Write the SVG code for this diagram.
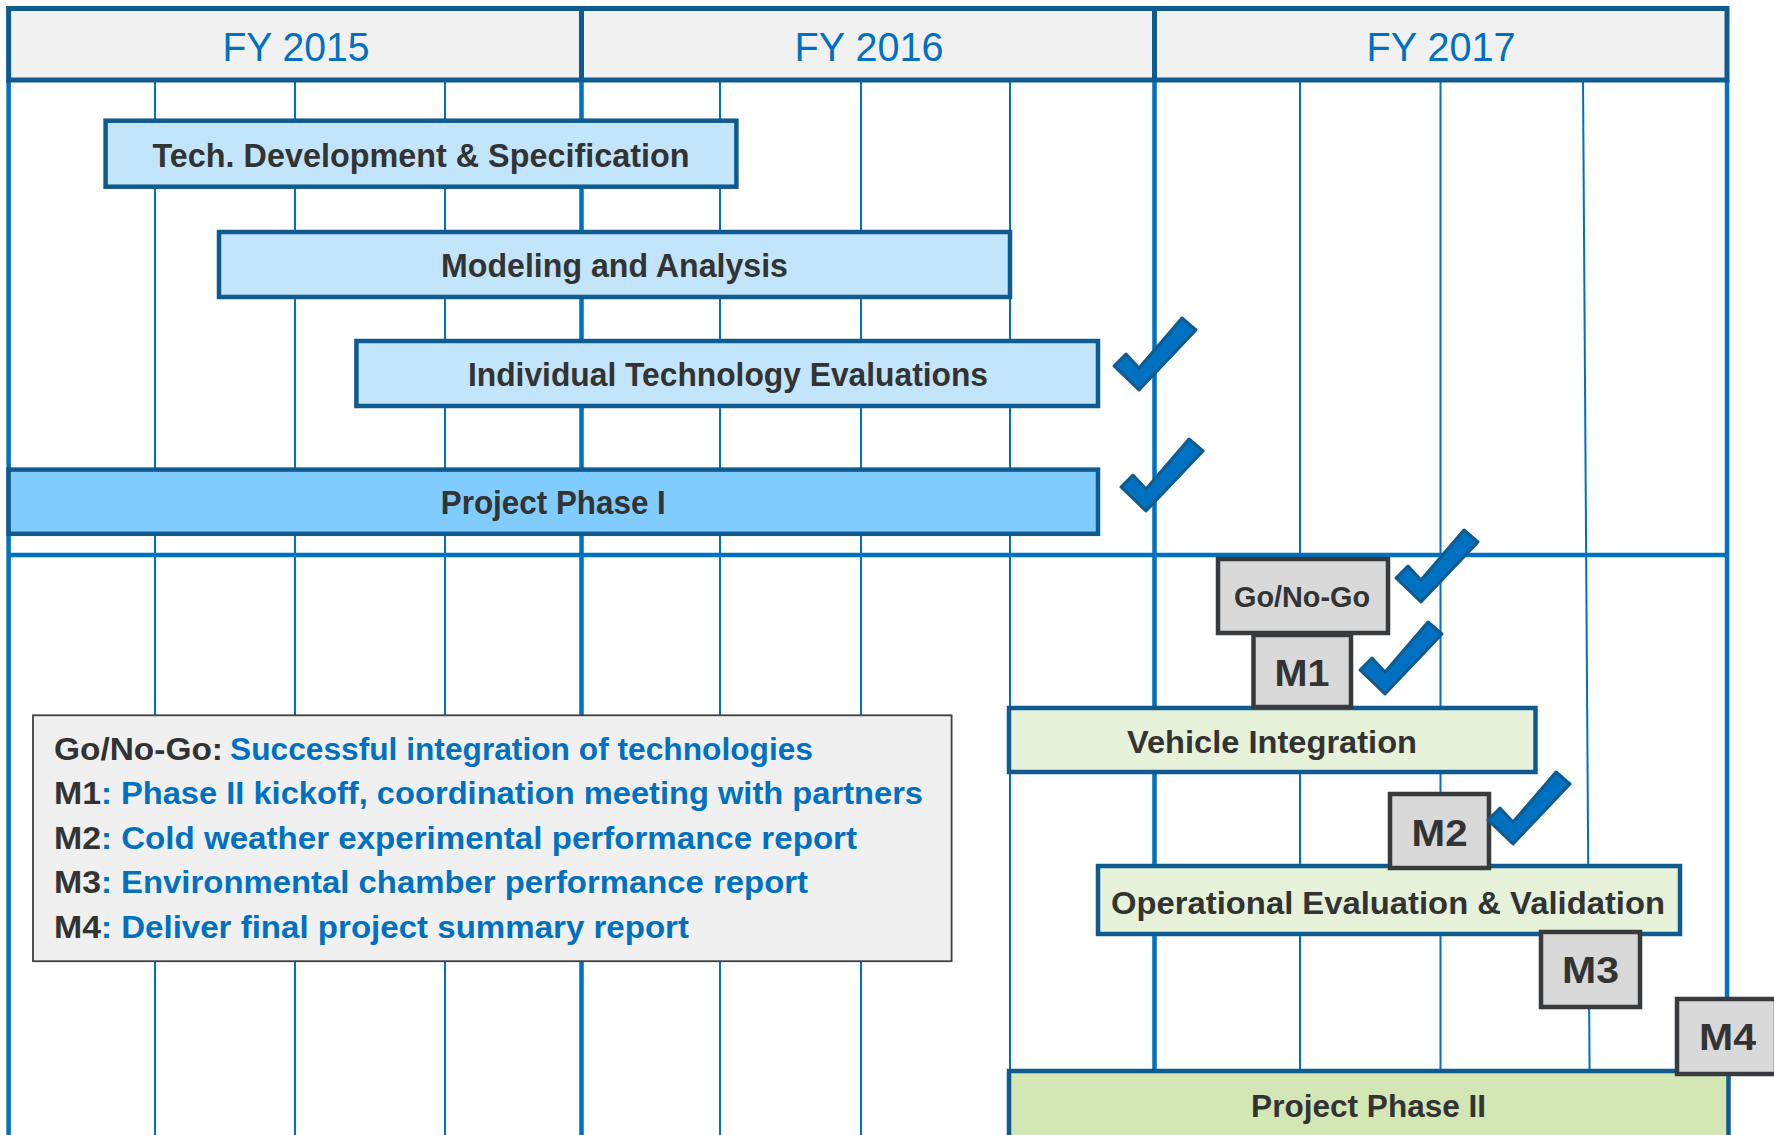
<svg xmlns="http://www.w3.org/2000/svg" width="1774" height="1135" viewBox="0 0 1774 1135">
<style>
.grid{stroke:#0070c0;fill:none}
.yr{stroke-width:4.5}
.q{stroke-width:2}
.bar{stroke:#0f5b8f;stroke-width:4.5}
.blue{fill:#c3e5fc}
.ph1{fill:#80ccfe}
.green{fill:#e6f2da}
.ph2{fill:#d2e7b4}
.ms{fill:#d9d9d9;stroke:#383b3e;stroke-width:4.5}
.t{font-family:"Liberation Sans",Arial,sans-serif;font-weight:bold;fill:#333;text-anchor:middle}
.hd{font-family:"Liberation Sans",Arial,sans-serif;fill:#0070c0;text-anchor:middle;font-size:41px}
.lg{font-family:"Liberation Sans",Arial,sans-serif;font-weight:bold;font-size:32px}
.dk{fill:#333}
.bl{fill:#0070c0}
.chk{fill:#0070c0;stroke:#0f5b8f;stroke-width:3;stroke-linejoin:round}
</style>
<defs>
<path id="check" d="M0,0 L-25,-24 L-13,-36 L0,-22 L43,-72 L57,-60 Z"/>
</defs>
<rect x="0" y="0" width="1774" height="1135" fill="#ffffff"/>
<g id="grid" class="grid">
<line class="q" x1="155" y1="80" x2="155" y2="1135"/>
<line class="q" x1="295" y1="80" x2="295" y2="1135"/>
<line class="q" x1="445" y1="80" x2="445" y2="1135"/>
<line class="q" x1="720" y1="80" x2="720" y2="1135"/>
<line class="q" x1="861" y1="80" x2="861" y2="1135"/>
<line class="q" x1="1010" y1="80" x2="1010" y2="1135"/>
<line class="q" x1="1300" y1="80" x2="1300" y2="1135"/>
<line class="q" x1="1440.5" y1="80" x2="1440.5" y2="1135"/>
<line class="q" x1="1583" y1="80" x2="1590" y2="1135"/>
<line class="yr" x1="581.5" y1="80" x2="581.5" y2="1135"/>
<line class="yr" x1="1154.5" y1="80" x2="1154.5" y2="1135"/>
<line class="yr" x1="8.6" y1="80" x2="8.6" y2="1135"/>
<line class="yr" x1="1727" y1="80" x2="1727" y2="1135"/>
<line class="yr" x1="8.6" y1="555" x2="1727" y2="555"/>
</g>
<g id="header">
<rect x="8.6" y="8.5" width="1718.4" height="71.5" fill="#f1f1f1" stroke="#0f5b8f" stroke-width="5"/>
<line x1="581.5" y1="8.5" x2="581.5" y2="80" stroke="#0f5b8f" stroke-width="5"/>
<line x1="1154.5" y1="8.5" x2="1154.5" y2="80" stroke="#0f5b8f" stroke-width="5"/>
<text class="hd" x="296" y="61" textLength="147" lengthAdjust="spacingAndGlyphs">FY 2015</text>
<text class="hd" x="869" y="61" textLength="149" lengthAdjust="spacingAndGlyphs">FY 2016</text>
<text class="hd" x="1441" y="61" textLength="149" lengthAdjust="spacingAndGlyphs">FY 2017</text>
</g>
<g id="tech-dev">
<rect class="bar blue" x="105.6" y="120.7" width="630.8" height="66"/>
<text class="t" x="421" y="167" font-size="33" textLength="537" lengthAdjust="spacingAndGlyphs">Tech. Development &amp; Specification</text>
</g>
<g id="modeling">
<rect class="bar blue" x="219" y="232" width="791" height="65"/>
<text class="t" x="614.5" y="277" font-size="33" textLength="347" lengthAdjust="spacingAndGlyphs">Modeling and Analysis</text>
</g>
<g id="individual">
<rect class="bar blue" x="356.4" y="341" width="741.6" height="65"/>
<text class="t" x="728" y="385.5" font-size="33" textLength="520" lengthAdjust="spacingAndGlyphs">Individual Technology Evaluations</text>
</g>
<g id="phase1">
<rect class="bar ph1" x="8.6" y="469.6" width="1089.4" height="64.2"/>
<text class="t" x="553.3" y="514" font-size="33" textLength="225" lengthAdjust="spacingAndGlyphs">Project Phase I</text>
</g>
<g id="legend">
<rect x="33" y="715.3" width="918.6" height="245.9" fill="#f0f0f0" stroke="#404040" stroke-width="1.8"/>
<text class="lg dk" x="54" y="759.5" textLength="169" lengthAdjust="spacingAndGlyphs">Go/No-Go:</text>
<text class="lg bl" x="230" y="759.5" textLength="583" lengthAdjust="spacingAndGlyphs">Successful integration of technologies</text>
<text class="lg dk" x="54" y="804" textLength="47" lengthAdjust="spacingAndGlyphs">M1</text>
<text class="lg bl" x="101" y="804" textLength="822" lengthAdjust="spacingAndGlyphs">: Phase II kickoff, coordination meeting with partners</text>
<text class="lg dk" x="54" y="848.5" textLength="47" lengthAdjust="spacingAndGlyphs">M2</text>
<text class="lg bl" x="101" y="848.5" textLength="756" lengthAdjust="spacingAndGlyphs">: Cold weather experimental performance report</text>
<text class="lg dk" x="54" y="893" textLength="47" lengthAdjust="spacingAndGlyphs">M3</text>
<text class="lg bl" x="101" y="893" textLength="707" lengthAdjust="spacingAndGlyphs">: Environmental chamber performance report</text>
<text class="lg dk" x="54" y="937.5" textLength="47" lengthAdjust="spacingAndGlyphs">M4</text>
<text class="lg bl" x="101" y="937.5" textLength="588" lengthAdjust="spacingAndGlyphs">: Deliver final project summary report</text>
</g>
<g id="vehicle">
<rect class="bar green" x="1009" y="708" width="526.5" height="64"/>
<text class="t" x="1272" y="752.5" font-size="32" textLength="290" lengthAdjust="spacingAndGlyphs">Vehicle Integration</text>
</g>
<g id="operational">
<rect class="bar green" x="1098" y="866" width="582" height="68"/>
<text class="t" x="1388" y="914" font-size="32" textLength="554" lengthAdjust="spacingAndGlyphs">Operational Evaluation &amp; Validation</text>
</g>
<g id="phase2">
<rect class="bar ph2" x="1009" y="1071" width="719.5" height="80"/>
<text class="t" x="1368.6" y="1117" font-size="32" textLength="235" lengthAdjust="spacingAndGlyphs">Project Phase II</text>
</g>
<g id="gonogo">
<rect class="ms" x="1218" y="559" width="170" height="74"/>
<text class="t" x="1302" y="607" font-size="29" textLength="136" lengthAdjust="spacingAndGlyphs">Go/No-Go</text>
</g>
<g id="m1">
<rect class="ms" x="1253.5" y="635" width="97.5" height="72"/>
<text class="t" x="1302" y="686" font-size="36" textLength="55" lengthAdjust="spacingAndGlyphs">M1</text>
</g>
<g id="m2">
<rect class="ms" x="1390" y="794" width="99" height="74"/>
<text class="t" x="1439.6" y="845.5" font-size="36" textLength="56" lengthAdjust="spacingAndGlyphs">M2</text>
</g>
<g id="m3">
<rect class="ms" x="1541" y="932" width="99" height="75"/>
<text class="t" x="1590.5" y="983" font-size="36" textLength="57" lengthAdjust="spacingAndGlyphs">M3</text>
</g>
<g id="m4">
<rect class="ms" x="1677" y="999" width="99" height="75"/>
<text class="t" x="1727.5" y="1050.4" font-size="36" textLength="57" lengthAdjust="spacingAndGlyphs">M4</text>
</g>
<g id="checks">
<use href="#check" class="chk" transform="translate(1139,390)"/>
<use href="#check" class="chk" transform="translate(1146,511)"/>
<use href="#check" class="chk" transform="translate(1421,602)"/>
<use href="#check" class="chk" transform="translate(1385,694)"/>
<use href="#check" class="chk" transform="translate(1513,844)"/>
</g>
<g id="connectors"/>
</svg>
